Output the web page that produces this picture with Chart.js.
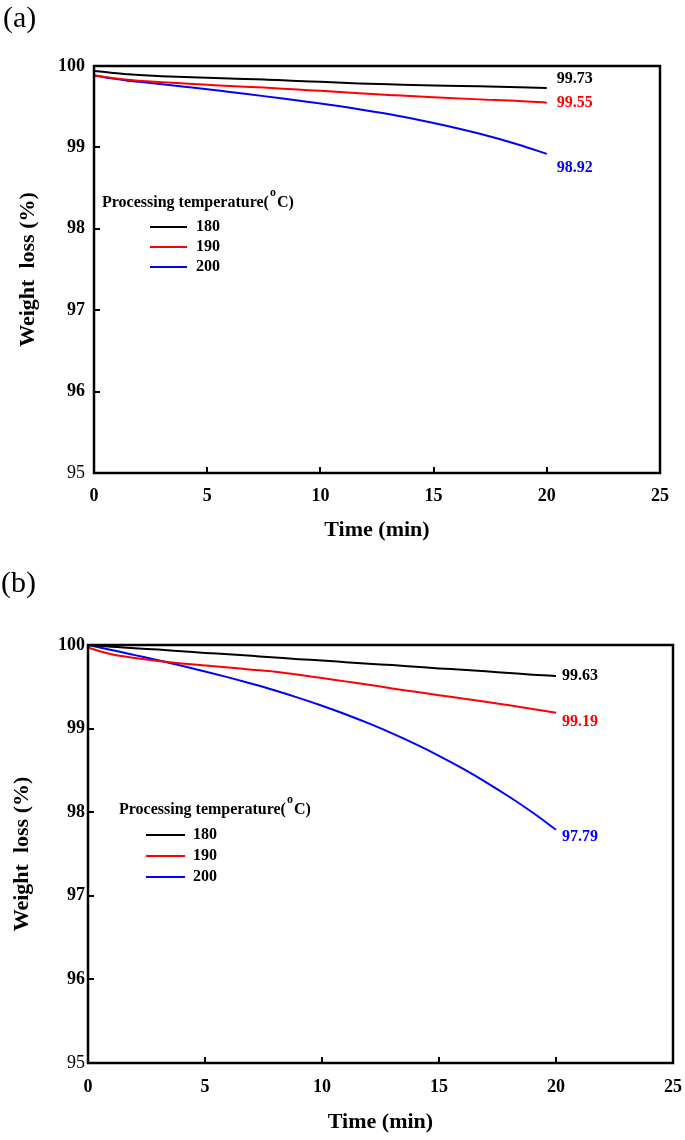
<!DOCTYPE html>
<html><head><meta charset="utf-8">
<script src="https://cdn.jsdelivr.net/npm/chart.js@4/dist/chart.umd.min.js"></script>
<style>
html,body{margin:0;padding:0;background:#fff;width:685px;height:1140px;overflow:hidden}
canvas{position:absolute;left:0}
.panel{position:absolute;font-family:"Liberation Serif","Times New Roman",serif;font-size:30px;line-height:34px;color:#000}
</style></head><body>
<canvas id="ca" width="685" height="570" style="top:0"></canvas>
<canvas id="cb" width="685" height="570" style="top:570px"></canvas>
<div class="panel" style="left:3px;top:0px">(a)</div>
<div class="panel" style="left:1px;top:565px">(b)</div>
<script>
// ---- data ----
const seriesLabels = ['180', '190', '200'];
const seriesColors = ['#000000', '#ff0000', '#0000ff'];
const xTickLabels = ['0', '5', '10', '15', '20', '25'];
const yTickLabels = ['95', '96', '97', '98', '99', '100'];
const legendTitle = 'Processing temperature(';
const legendSup = 'o';
const legendTail = 'C)';

// panel (a)
const timeA = [0, 0.5, 1, 1.5, 2, 3, 4, 5, 6, 7.5, 9, 10, 11.7, 13, 15, 17, 18.8, 20];
const a180 = [99.94, 99.925, 99.91, 99.90, 99.89, 99.875, 99.865, 99.855, 99.845, 99.835, 99.815, 99.805, 99.785, 99.775, 99.76, 99.75, 99.74, 99.73];
const a190 = [99.885, 99.865, 99.845, 99.83, 99.82, 99.80, 99.785, 99.77, 99.755, 99.735, 99.71, 99.695, 99.665, 99.645, 99.615, 99.59, 99.57, 99.55];
const a200 = [99.885, 99.86, 99.84, 99.82, 99.805, 99.775, 99.745, 99.715, 99.68, 99.63, 99.575, 99.54, 99.47, 99.41, 99.30, 99.17, 99.03, 98.92];

// panel (b)
const timeB = [0, 0.5, 1, 1.5, 2, 3, 4, 5, 6, 7, 8, 9, 10, 11, 12, 13, 14, 15, 16, 17, 18, 19, 20];
const b180 = [100, 99.99, 99.98, 99.97, 99.96, 99.945, 99.925, 99.905, 99.89, 99.87, 99.85, 99.83, 99.815, 99.795, 99.775, 99.76, 99.74, 99.72, 99.705, 99.685, 99.665, 99.645, 99.63];
const b190 = [99.97, 99.925, 99.89, 99.865, 99.845, 99.81, 99.78, 99.755, 99.73, 99.705, 99.68, 99.645, 99.605, 99.565, 99.525, 99.48, 99.44, 99.40, 99.36, 99.32, 99.28, 99.235, 99.19];
const b200 = [100, 99.97, 99.94, 99.91, 99.879, 99.817, 99.752, 99.684, 99.613, 99.537, 99.456, 99.368, 99.274, 99.172, 99.062, 98.943, 98.814, 98.675, 98.524, 98.361, 98.185, 97.996, 97.79];

const FONT = '"Liberation Serif", "Times New Roman", serif';

function pts(t, v) { return t.map((x, i) => ({ x: x, y: v[i] })); }

const framePlugin = {
  id: 'frame',
  afterDatasetsDraw(chart, args, o) {
    const { ctx, chartArea: a, scales: { x, y } } = chart;
    ctx.save();
    ctx.strokeStyle = '#000';
    ctx.lineWidth = 2.5;
    ctx.strokeRect(a.left, a.top, a.right - a.left, a.bottom - a.top);
    ctx.lineWidth = 2;
    ctx.beginPath();
    x.ticks.forEach(t => {
      if (t.value > x.min && t.value < x.max) {
        const p = Math.round(x.getPixelForValue(t.value));
        ctx.moveTo(p, a.bottom); ctx.lineTo(p, a.bottom - 6);
      }
    });
    y.ticks.forEach(t => {
      if (t.value > y.min && t.value < y.max) {
        const p = Math.round(y.getPixelForValue(t.value));
        ctx.moveTo(a.left, p); ctx.lineTo(a.left + 6, p);
      }
    });
    ctx.stroke();

    // end-value labels
    ctx.font = 'bold 16px ' + FONT;
    ctx.textBaseline = 'middle';
    ctx.textAlign = 'left';
    chart.data.datasets.forEach((ds, i) => {
      const last = ds.data[ds.data.length - 1];
      ctx.fillStyle = ds.borderColor;
      ctx.fillText(last.y.toFixed(2), x.getPixelForValue(last.x) + o.labelDx, y.getPixelForValue(last.y) + o.labelDy[i]);
    });

    // legend
    const L = o.legend;
    ctx.fillStyle = '#000';
    ctx.font = 'bold 16px ' + FONT;
    ctx.fillText(legendTitle, L.x, L.y);
    let w = ctx.measureText(legendTitle).width;
    ctx.font = 'bold 12px ' + FONT;
    ctx.fillText(legendSup, L.x + w + 1, L.y - 10);
    const ws = ctx.measureText(legendSup).width;
    ctx.font = 'bold 16px ' + FONT;
    ctx.fillText(legendTail, L.x + w + ws + 2, L.y);
    chart.data.datasets.forEach((ds, i) => {
      const yy = L.rowY + i * L.rowGap;
      ctx.strokeStyle = ds.borderColor;
      ctx.lineWidth = 2;
      ctx.beginPath(); ctx.moveTo(L.lineX0, yy); ctx.lineTo(L.lineX1, yy); ctx.stroke();
      ctx.fillStyle = '#000';
      ctx.fillText(ds.label, L.textX, yy);
    });
    ctx.restore();
  }
};

function makeChart(id, time, s1, s2, s3, cfg) {
  const series = [s1, s2, s3];
  new Chart(document.getElementById(id), {
    type: 'line',
    data: {
      datasets: series.map((s, i) => ({
        label: seriesLabels[i],
        data: pts(time, s),
        borderColor: seriesColors[i],
        backgroundColor: seriesColors[i],
        borderWidth: 2,
        pointRadius: 0,
        cubicInterpolationMode: 'monotone',
        fill: false
      }))
    },
    options: {
      responsive: false,
      animation: false,
      devicePixelRatio: 1,
      layout: { padding: cfg.padding },
      plugins: {
        legend: { display: false },
        tooltip: { enabled: false },
        frame: cfg.frame
      },
      scales: {
        x: {
          type: 'linear', min: 0, max: 25,
          grid: { display: true, drawOnChartArea: false, drawTicks: true, tickLength: cfg.xTickPad, color: 'rgba(0,0,0,0)' },
          border: { display: false },
          ticks: {
            stepSize: 5, padding: 0, color: '#000',
            font: { family: FONT, size: 18, weight: 'bold' },
            callback: (v, i) => xTickLabels[i]
          },
          title: {
            display: true, text: 'Time (min)', color: '#000',
            font: { family: FONT, size: 22, weight: 'bold' },
            padding: { top: 0, bottom: cfg.xTitlePad }
          },
          afterFit: s => { s.height = cfg.xHeight; }
        },
        y: {
          type: 'linear', min: 95, max: 100,
          grid: { display: true, drawOnChartArea: false, drawTicks: true, tickLength: cfg.yTickPad, color: 'rgba(0,0,0,0)' },
          border: { display: false },
          ticks: {
            stepSize: 1, padding: 0, color: '#000',
            font: c => ({ family: FONT, size: 18, weight: (c.tick && c.tick.value === 95) ? 'normal' : 'bold' }),
            callback: (v, i) => yTickLabels[i]
          },
          title: {
            display: true, text: 'Weight  loss (%)', color: '#000',
            font: { family: FONT, size: 22, weight: 'bold' },
            padding: { top: cfg.yTitlePad, bottom: 0 }
          },
          afterFit: s => { s.width = cfg.yWidth; }
        }
      }
    },
    plugins: [framePlugin]
  });
}

makeChart('ca', timeA, a180, a190, a200, {
  padding: { top: 66, right: 25, left: 0, bottom: 0 },
  yWidth: 94, xHeight: 97, xTickPad: 13, yTickPad: 9, xTitlePad: 26, yTitlePad: 15,
  frame: {
    labelDx: 10, labelDy: [-9, 0, 14],
    legend: { x: 102, y: 203, rowY: 227, rowGap: 20, lineX0: 150, lineX1: 187, textX: 196 }
  }
});
makeChart('cb', timeB, b180, b190, b200, {
  padding: { top: 75, right: 12, left: 0, bottom: 0 },
  yWidth: 88, xHeight: 77, xTickPad: 14, yTickPad: 3, xTitlePad: 4, yTitlePad: 9,
  frame: {
    labelDx: 6, labelDy: [0, 9, 7],
    legend: { x: 119, y: 240, rowY: 265, rowGap: 21, lineX0: 146, lineX1: 185, textX: 193 }
  }
});
</script>
</body></html>
